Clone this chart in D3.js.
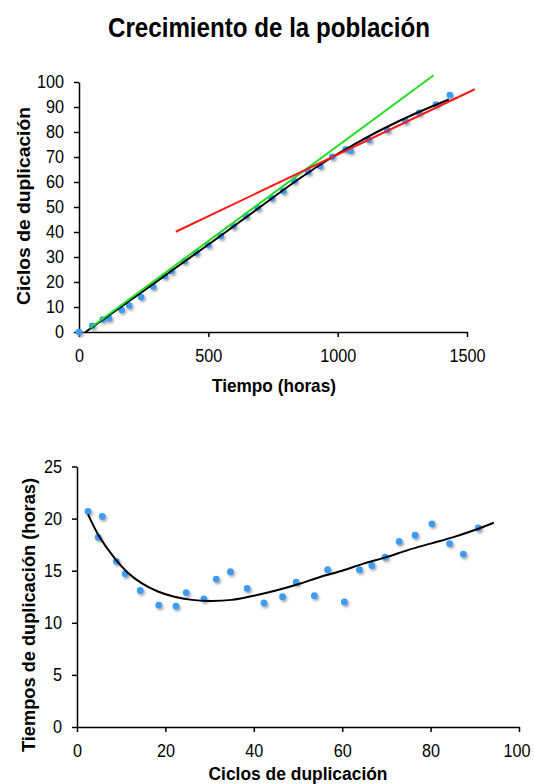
<!DOCTYPE html>
<html>
<head>
<meta charset="utf-8">
<script src="https://cdn.jsdelivr.net/npm/d3@7"></script>
<style>
  html, body { margin: 0; padding: 0; background: #ffffff; }
  svg { display: block; }
  text { font-family: "Liberation Sans", Arial, sans-serif; fill: #000; }
</style>
</head>
<body>
<svg id="chart" width="534" height="784"></svg>
<script>
// ---------- Data: top chart (population growth) ----------
const topHours  = [0, 51, 92, 116, 165, 194, 240, 287, 332, 358, 408, 453, 500, 548, 597, 646, 691, 745, 790, 832, 886, 932, 979, 1031, 1050, 1121, 1192, 1262, 1315, 1380, 1434];
const topCycles = [0, 2.5, 5.0, 5.5, 8.8, 10.6, 14.0, 18.1, 22.4, 24.4, 28.4, 31.7, 34.8, 38.4, 42.4, 46.4, 49.7, 53.5, 56.4, 60.5, 64.1, 66.4, 70.1, 73.1, 72.5, 76.8, 80.8, 84.4, 87.7, 91.0, 94.8];
// polynomial trend curve
const topFitX = [25, 200, 400, 545, 700, 854, 983, 1050, 1163, 1292, 1430];
const topFitY = [0, 12.8, 27.6, 38.3, 50.0, 61.5, 70.2, 74.2, 80.6, 87.0, 93.0];
// linear fits
const greenX = [42, 1371];
const greenY = [1.5, 102.7];
const redX = [374, 1530];
const redY = [40.1, 97.1];
const topXTicks = [0, 500, 1000, 1500];
const topYTicks = [0, 10, 20, 30, 40, 50, 60, 70, 80, 90, 100];

// ---------- Data: bottom chart (doubling times) ----------
const btmCycles = [2.5, 4.8, 5.7, 8.9, 10.9, 14.3, 18.5, 22.4, 24.7, 28.7, 31.5, 34.7, 38.5, 42.3, 46.5, 49.6, 53.7, 56.7, 60.5, 63.9, 66.7, 69.7, 72.9, 76.5, 80.3, 84.3, 87.4, 90.8];
const btmHours  = [20.7, 18.2, 20.2, 15.9, 14.7, 13.1, 11.7, 11.6, 12.9, 12.3, 14.2, 14.9, 13.3, 11.9, 12.5, 13.9, 12.6, 15.1, 12.0, 15.1, 15.5, 16.3, 17.8, 18.4, 19.5, 17.6, 16.6, 19.1];
const btmFitX = [2.5, 5, 8.5, 11.5, 14.6, 18.3, 22, 26, 30, 35, 40, 45, 50, 55, 60, 65, 70, 75, 80, 85, 90, 94.3];
const btmFitY = [20.4, 18.3, 16.2, 14.8, 13.8, 13.0, 12.5, 12.2, 12.1, 12.2, 12.6, 13.1, 13.7, 14.4, 15.0, 15.7, 16.3, 17.0, 17.6, 18.2, 18.9, 19.6];
const btmXTicks = [0, 20, 40, 60, 80, 100];
const btmYTicks = [0, 5, 10, 15, 20, 25];

// ---------- Text ----------
const mainTitle = "Crecimiento de la población";
const topXTitle = "Tiempo (horas)";
const topYTitle = "Ciclos de duplicación";
const btmXTitle = "Ciclos de duplicación";
const btmYTitle = "Tiempos de duplicación (horas)";

const svg = d3.select("#chart");
const defs = svg.append("defs");
const f = defs.append("filter").attr("id", "shadow").attr("x", "-50%").attr("y", "-50%").attr("width", "200%").attr("height", "200%");
f.append("feDropShadow").attr("dx", 1.5).attr("dy", 2).attr("stdDeviation", 1.2)
  .attr("flood-color", "#777").attr("flood-opacity", 0.6);

const BLUE = "#3d9cf7";
const TICK_FS = 18;

function styleAxis(g) {
  g.select(".domain").attr("stroke", "#000").attr("stroke-width", 1.5);
  g.selectAll(".tick line").attr("stroke", "#000").attr("stroke-width", 1.5);
  g.selectAll(".tick text")
    .attr("font-size", TICK_FS)
    .attr("font-family", "Liberation Sans, Arial, sans-serif")
    .attr("fill", "#000")
    .each(function () {
      const w = this.getComputedTextLength();
      d3.select(this).attr("textLength", w * 0.9).attr("lengthAdjust", "spacingAndGlyphs");
    });
}

function boldText(x, y, str, size, len, rotate) {
  const t = svg.append("text")
    .attr("font-weight", "bold")
    .attr("font-size", size)
    .attr("text-anchor", "middle")
    .attr("textLength", len)
    .attr("lengthAdjust", "spacingAndGlyphs")
    .text(str);
  if (rotate) {
    t.attr("transform", `translate(${x},${y}) rotate(-90)`);
  } else {
    t.attr("x", x).attr("y", y);
  }
  return t;
}

// ---------- Title ----------
boldText(269, 37, mainTitle, 27, 322, false);

// ---------- Top chart ----------
const tx = d3.scaleLinear().domain([0, 1500]).range([79, 467]);
const ty = d3.scaleLinear().domain([0, 100]).range([332, 82]);

const gTop = svg.append("g");
gTop.append("g").attr("transform", `translate(0,${ty(0)})`)
  .call(d3.axisBottom(tx).tickValues(topXTicks).tickSizeInner(5).tickSizeOuter(0).tickPadding(12).tickFormat(d3.format("d")))
  .call(styleAxis);
gTop.append("g").attr("transform", `translate(${tx(0)},0)`)
  .call(d3.axisLeft(ty).tickValues(topYTicks).tickSizeInner(5).tickSizeOuter(0).tickPadding(10).tickFormat(d3.format("d")))
  .call(styleAxis);

const topPts = topHours.map((h, i) => ({ x: h, y: topCycles[i] }));
gTop.append("g").attr("filter", "url(#shadow)")
  .selectAll("circle").data(topPts).join("circle")
  .attr("cx", d => tx(d.x)).attr("cy", d => ty(d.y)).attr("r", 3.3).attr("fill", BLUE);

const lineTop = d3.line().x(d => tx(d[0])).y(d => ty(d[1]));
gTop.append("path").datum(topFitX.map((x, i) => [x, topFitY[i]]))
  .attr("d", lineTop.curve(d3.curveCatmullRom)).attr("fill", "none").attr("stroke", "#000").attr("stroke-width", 2);
gTop.append("path").datum(greenX.map((x, i) => [x, greenY[i]]))
  .attr("d", d3.line().x(d => tx(d[0])).y(d => ty(d[1]))).attr("fill", "none").attr("stroke", "#22dd22").attr("stroke-width", 2);
gTop.append("path").datum(redX.map((x, i) => [x, redY[i]]))
  .attr("d", d3.line().x(d => tx(d[0])).y(d => ty(d[1]))).attr("fill", "none").attr("stroke", "#ff1a1a").attr("stroke-width", 2);

boldText(274, 392, topXTitle, 19, 124, false);
boldText(30, 206, topYTitle, 19, 198, true);

// ---------- Bottom chart ----------
const bx = d3.scaleLinear().domain([0, 100]).range([77, 519]);
const by = d3.scaleLinear().domain([0, 25]).range([727, 466.5]);

const gB = svg.append("g");
const bxAxis = gB.append("g").attr("transform", `translate(0,${by(0)})`)
  .call(d3.axisBottom(bx).tickValues(btmXTicks).tickSizeInner(5).tickSizeOuter(0).tickPadding(12).tickFormat(d3.format("d")))
  .call(styleAxis);
// keep the last label inside the page edge
bxAxis.selectAll(".tick text").filter(d => d === 100).attr("dx", -2.5);
gB.append("g").attr("transform", `translate(${bx(0)},0)`)
  .call(d3.axisLeft(by).tickValues(btmYTicks).tickSizeInner(5).tickSizeOuter(0).tickPadding(10).tickFormat(d3.format("d")))
  .call(styleAxis);

const btmPts = btmCycles.map((c, i) => ({ x: c, y: btmHours[i] }));
gB.append("g").attr("filter", "url(#shadow)")
  .selectAll("circle").data(btmPts).join("circle")
  .attr("cx", d => bx(d.x)).attr("cy", d => by(d.y)).attr("r", 3.4).attr("fill", BLUE);

gB.append("path").datum(btmFitX.map((x, i) => [x, btmFitY[i]]))
  .attr("d", d3.line().x(d => bx(d[0])).y(d => by(d[1])).curve(d3.curveCatmullRom))
  .attr("fill", "none").attr("stroke", "#000").attr("stroke-width", 2);

boldText(298, 780, btmXTitle, 18, 179, false);
boldText(35, 615, btmYTitle, 19, 274, true);
</script>
</body>
</html>
